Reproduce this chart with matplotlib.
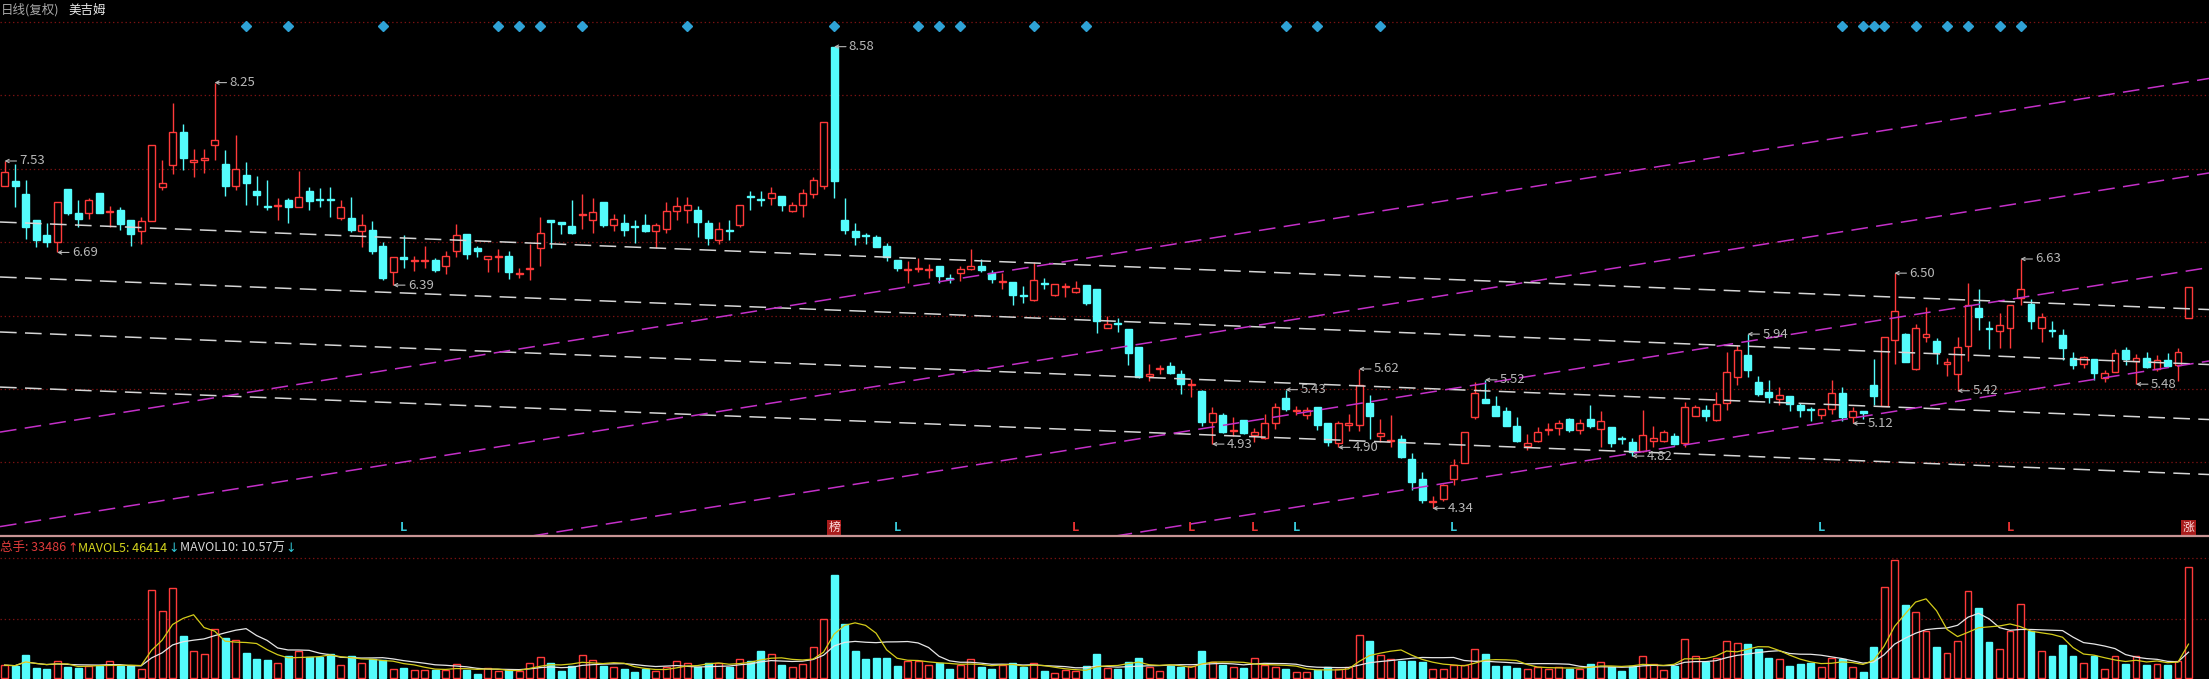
import numpy as np
import pandas as pd
import matplotlib
matplotlib.use('Agg')
import matplotlib.pyplot as plt
import matplotlib.transforms as mtrans
from matplotlib.lines import Line2D

plt.rcParams['font.family'] = ['Noto Sans CJK SC', 'DejaVu Sans']
plt.rcParams['lines.scale_dashes'] = False

# ---------------- data (daily OHLC, volume in thousand lots) ----------------
opens = [7.30, 7.35, 7.23, 6.99, 6.85, 6.79, 7.27, 7.05, 7.05, 7.24, 7.06, 7.08, 6.99, 6.89, 6.98, 7.29, 7.49, 7.80, 7.52, 7.54,
         7.68, 7.50, 7.30, 7.40, 7.25, 7.12, 7.12, 7.17, 7.11, 7.25, 7.18, 7.18, 7.01, 7.01, 6.89, 6.90, 6.75, 6.51, 6.65, 6.61,
         6.61, 6.62, 6.57, 6.70, 6.86, 6.73, 6.63, 6.65, 6.66, 6.49, 6.54, 6.73, 6.99, 6.97, 6.93, 7.03, 6.99, 7.15, 6.94, 6.96,
         6.93, 6.94, 6.89, 6.91, 7.07, 7.08, 7.08, 6.96, 6.80, 6.90, 6.94, 7.21, 7.18, 7.19, 7.21, 7.07, 7.13, 7.23, 7.30, 8.58,
         6.99, 6.89, 6.85, 6.83, 6.75, 6.62, 6.53, 6.54, 6.53, 6.57, 6.46, 6.50, 6.54, 6.57, 6.50, 6.42, 6.42, 6.30, 6.25, 6.41,
         6.30, 6.37, 6.33, 6.39, 6.35, 6.00, 6.04, 5.99, 5.82, 5.56, 5.62, 5.65, 5.57, 5.47, 5.42, 5.13, 5.20, 5.05, 5.15, 5.01,
         4.99, 5.12, 5.35, 5.23, 5.20, 5.27, 5.12, 4.94, 5.11, 5.11, 5.31, 5.00, 4.96, 4.98, 4.79, 4.61, 4.40, 4.43, 4.61, 4.76,
         5.18, 5.34, 5.28, 5.23, 5.10, 4.91, 4.96, 5.06, 5.08, 5.16, 5.06, 5.16, 5.07, 5.09, 4.99, 4.95, 4.87, 4.96, 4.96, 5.00,
         4.94, 5.19, 5.24, 5.15, 5.31, 5.55, 5.75, 5.50, 5.41, 5.34, 5.37, 5.29, 5.25, 5.20, 5.25, 5.40, 5.18, 5.23, 5.47, 5.28,
         5.89, 5.94, 5.62, 5.91, 5.88, 5.67, 5.57, 5.83, 6.18, 6.00, 5.97, 6.00, 6.27, 6.22, 6.00, 5.98, 5.93, 5.72, 5.67, 5.71,
         5.54, 5.59, 5.79, 5.69, 5.72, 5.62, 5.70, 5.66, 6.09]
highs = [7.53, 7.50, 7.36, 6.99, 6.96, 7.15, 7.27, 7.17, 7.19, 7.24, 7.12, 7.11, 6.99, 7.02, 7.68, 7.54, 8.06, 7.87, 7.64, 7.64,
         8.25, 7.63, 7.77, 7.52, 7.39, 7.36, 7.19, 7.19, 7.44, 7.29, 7.28, 7.29, 7.17, 7.20, 7.04, 6.98, 6.79, 6.65, 6.85, 6.66,
         6.75, 6.64, 6.70, 6.95, 6.86, 6.75, 6.66, 6.72, 6.70, 6.55, 6.77, 7.02, 6.99, 6.97, 7.17, 7.23, 7.19, 7.15, 7.04, 7.04,
         6.99, 7.04, 6.96, 7.15, 7.20, 7.20, 7.12, 6.99, 6.97, 6.99, 7.13, 7.25, 7.25, 7.29, 7.21, 7.15, 7.27, 7.38, 7.89, 8.58,
         7.19, 6.96, 6.87, 6.85, 6.78, 6.62, 6.61, 6.64, 6.58, 6.57, 6.49, 6.57, 6.72, 6.63, 6.53, 6.50, 6.42, 6.38, 6.60, 6.46,
         6.40, 6.41, 6.43, 6.39, 6.35, 6.11, 6.09, 5.99, 5.82, 5.67, 5.66, 5.68, 5.61, 5.53, 5.43, 5.27, 5.22, 5.18, 5.15, 5.08,
         5.21, 5.31, 5.43, 5.28, 5.27, 5.27, 5.12, 5.14, 5.21, 5.62, 5.38, 5.16, 5.20, 5.01, 4.85, 4.67, 4.45, 4.56, 4.79, 5.04,
         5.50, 5.52, 5.37, 5.27, 5.18, 5.02, 5.09, 5.12, 5.15, 5.17, 5.16, 5.29, 5.23, 5.09, 5.00, 4.99, 5.24, 5.10, 5.06, 5.03,
         5.32, 5.29, 5.29, 5.41, 5.78, 5.84, 5.94, 5.56, 5.52, 5.45, 5.37, 5.31, 5.27, 5.25, 5.52, 5.45, 5.27, 5.23, 5.71, 5.91,
         6.50, 5.95, 6.03, 6.19, 5.90, 5.72, 5.91, 6.41, 6.35, 6.06, 6.13, 6.21, 6.63, 6.26, 6.13, 6.06, 5.99, 5.78, 5.74, 5.71,
         5.61, 5.80, 5.82, 5.76, 5.78, 5.75, 5.77, 5.81, 6.37]
lows = [7.30, 7.11, 6.81, 6.74, 6.74, 6.69, 7.03, 6.92, 7.00, 7.05, 6.92, 6.90, 6.75, 6.77, 6.98, 7.26, 7.41, 7.45, 7.38, 7.42,
        7.54, 7.21, 7.26, 7.13, 7.13, 7.08, 6.99, 6.96, 7.11, 7.08, 7.11, 7.02, 6.99, 6.88, 6.74, 6.68, 6.44, 6.39, 6.55, 6.52,
        6.55, 6.51, 6.49, 6.65, 6.63, 6.65, 6.51, 6.51, 6.45, 6.46, 6.44, 6.57, 6.73, 6.86, 6.86, 6.91, 6.87, 6.92, 6.89, 6.84,
        6.78, 6.88, 6.73, 6.87, 6.99, 6.96, 6.83, 6.76, 6.77, 6.80, 6.92, 7.08, 7.12, 7.13, 7.07, 7.06, 7.02, 7.19, 7.27, 7.19,
        6.86, 6.76, 6.77, 6.74, 6.61, 6.52, 6.41, 6.51, 6.46, 6.41, 6.41, 6.43, 6.53, 6.51, 6.41, 6.35, 6.21, 6.23, 6.24, 6.35,
        6.29, 6.28, 6.32, 6.21, 5.95, 6.00, 5.96, 5.66, 5.54, 5.51, 5.57, 5.57, 5.39, 5.36, 5.10, 4.93, 5.03, 5.00, 5.02, 4.95,
        4.98, 5.07, 5.23, 5.20, 5.16, 5.06, 4.91, 4.90, 5.05, 5.05, 4.98, 4.95, 4.90, 4.80, 4.51, 4.39, 4.34, 4.41, 4.55, 4.76,
        5.16, 5.31, 5.19, 5.10, 4.95, 4.88, 4.95, 5.01, 5.01, 5.04, 5.02, 5.08, 4.90, 4.90, 4.93, 4.82, 4.86, 4.90, 4.95, 4.92,
        4.90, 5.19, 5.14, 5.14, 5.24, 5.47, 5.55, 5.37, 5.31, 5.29, 5.23, 5.18, 5.14, 5.16, 5.21, 5.14, 5.12, 5.16, 5.29, 5.28,
        5.67, 5.68, 5.61, 5.87, 5.67, 5.56, 5.42, 5.69, 5.98, 5.80, 5.81, 5.81, 6.21, 5.99, 5.87, 5.91, 5.70, 5.62, 5.63, 5.52,
        5.50, 5.59, 5.66, 5.48, 5.63, 5.60, 5.64, 5.51, 6.09]
closes = [7.43, 7.30, 6.92, 6.80, 6.79, 7.15, 7.05, 7.00, 7.17, 7.05, 7.07, 6.95, 6.86, 6.98, 7.68, 7.33, 7.80, 7.56, 7.54, 7.56,
          7.72, 7.30, 7.46, 7.33, 7.22, 7.11, 7.13, 7.11, 7.20, 7.16, 7.17, 7.17, 7.11, 6.90, 6.94, 6.70, 6.46, 6.65, 6.63, 6.62,
          6.62, 6.53, 6.66, 6.85, 6.68, 6.70, 6.66, 6.66, 6.51, 6.50, 6.55, 6.87, 6.97, 6.95, 6.87, 7.04, 7.06, 6.94, 7.00, 6.90,
          6.92, 6.89, 6.94, 7.07, 7.12, 7.13, 6.97, 6.82, 6.91, 6.89, 7.13, 7.20, 7.17, 7.24, 7.13, 7.13, 7.24, 7.36, 7.89, 7.35,
          6.90, 6.83, 6.84, 6.74, 6.65, 6.55, 6.54, 6.55, 6.54, 6.47, 6.45, 6.54, 6.57, 6.53, 6.45, 6.43, 6.30, 6.29, 6.44, 6.40,
          6.40, 6.38, 6.36, 6.23, 6.06, 6.03, 6.03, 5.77, 5.55, 5.57, 5.63, 5.58, 5.48, 5.48, 5.13, 5.22, 5.04, 5.06, 5.03, 5.04,
          5.12, 5.27, 5.25, 5.24, 5.24, 5.11, 4.95, 5.12, 5.12, 5.47, 5.19, 5.03, 4.97, 4.81, 4.58, 4.42, 4.41, 4.55, 4.74, 5.04,
          5.40, 5.31, 5.19, 5.10, 4.96, 4.94, 5.04, 5.07, 5.12, 5.06, 5.12, 5.10, 5.14, 4.94, 4.98, 4.86, 5.01, 4.99, 5.04, 4.93,
          5.27, 5.27, 5.19, 5.30, 5.59, 5.79, 5.61, 5.39, 5.36, 5.38, 5.30, 5.24, 5.24, 5.25, 5.40, 5.18, 5.23, 5.22, 5.37, 5.91,
          6.15, 5.68, 6.00, 5.94, 5.78, 5.68, 5.82, 6.21, 6.10, 5.99, 6.02, 6.21, 6.35, 6.06, 6.10, 5.97, 5.81, 5.66, 5.73, 5.58,
          5.58, 5.77, 5.71, 5.72, 5.64, 5.70, 5.65, 5.78, 6.37]
volumes = [37, 34, 69, 29, 25, 49, 32, 30, 34, 34, 50, 34, 34, 27, 264, 200, 270, 126, 81, 72,
           147, 119, 112, 75, 57, 54, 44, 65, 80, 62, 62, 71, 37, 65, 44, 57, 52, 27, 29, 24,
           22, 24, 22, 42, 22, 12, 30, 20, 22, 20, 44, 62, 44, 19, 34, 69, 52, 35, 32, 26,
           17, 26, 19, 32, 51, 45, 32, 45, 45, 32, 55, 51, 80, 71, 38, 32, 42, 93, 175, 309,
           162, 81, 55, 58, 60, 35, 51, 51, 38, 45, 26, 38, 55, 32, 26, 38, 45, 32, 45, 19,
           13, 22, 19, 35, 71, 29, 26, 47, 58, 32, 19, 35, 32, 35, 81, 47, 38, 32, 29, 58,
           38, 32, 26, 17, 17, 22, 32, 26, 32, 128, 111, 68, 55, 51, 51, 47, 26, 26, 38, 38,
           86, 71, 35, 35, 29, 26, 32, 26, 32, 26, 26, 42, 47, 32, 19, 35, 64, 42, 22, 35,
           117, 64, 47, 60, 109, 105, 102, 86, 58, 55, 35, 42, 45, 32, 60, 55, 32, 17, 92, 271,
           354, 218, 196, 141, 93, 73, 111, 260, 209, 106, 87, 141, 220, 141, 81, 64, 98, 64, 45, 64,
           26, 64, 41, 64, 38, 41, 38, 51, 333]

# labelled extreme points (bar index)
high_label_idx = [0, 20, 79, 122, 129, 141, 166, 180, 192]
low_label_idx = [5, 37, 115, 127, 136, 155, 176, 186, 203]

# signal markers
top_diamond_idx = [23, 27, 36, 47, 49, 51, 55, 65, 79, 87, 89, 91, 98, 103, 122, 125, 131,
                   175, 177, 178, 179, 182, 185, 187, 190, 192]
bottom_L_idx = [38, 85, 102, 113, 119, 123, 138, 173, 191]
bottom_L_kind = ['c', 'c', 'r', 'r', 'r', 'c', 'c', 'c', 'r']
bottom_tag_idx = [79, 208]
bottom_tag_text = ['榜', '涨']

# drawn trend lines: price at bar 0 and at bar 208
white_lines = [(6.968, 6.173), (6.463, 5.668), (5.958, 5.163), (5.452, 4.658)]
magenta_lines = [(5.047, 8.258), (4.179, 7.390), (3.311, 6.522), (2.453, 5.663)]

title_left = '日线(复权)'
title_name = '美吉姆'
vol_label_parts = [('总手: 33486', '↑'), ('MAVOL5: 46414', '↓'), ('MAVOL10: 10.57万', '↓')]

# ---------------- figure ----------------
W, H = 2209, 679
fig = plt.figure(figsize=(W / 100, H / 100), dpi=100, facecolor='black')

def fy(px):
    return 1 - px / H

ax = fig.add_axes([0, fy(536), 1, (536 - 14) / H])
axv = fig.add_axes([0, 0, 1, 143 / H])
for a in (ax, axv):
    a.set_facecolor('black')
    for s in a.spines.values():
        s.set_visible(False)
    a.set_xticks([])
    a.set_yticks([])

n = len(opens)
idx = np.arange(n)
o = np.array(opens); h = np.array(highs); l = np.array(lows); c = np.array(closes)
v = np.array(volumes, dtype=float)
up = c >= o

RED = '#ff3a3a'
CYAN = '#54fcfc'
xlim = (-0.438, 209.95)
ax.set_xlim(*xlim)
axv.set_xlim(*xlim)
ax.set_ylim(4.086, 8.880)
axv.set_ylim(-4.5, 424.5)

# grid (dotted dark red)
for k in range(7):
    ax.axhline(8.807 - 0.674 * k, color='#7a1212', lw=0.9, ls=(0, (1, 2)), zorder=0)
for gv in (175.5, 358.5):
    axv.axhline(gv, color='#7a1212', lw=0.9, ls=(0, (1, 2)), zorder=0)

# candles
cols = [RED if u else CYAN for u in up]
ax.vlines(idx, l, h, colors=cols, lw=1.0, zorder=2)
bw = 0.66
body_lo = np.minimum(o, c)
body_h = np.maximum(np.abs(c - o), 0.004)
ax.bar(idx, body_h, bottom=body_lo, width=bw,
       color=['black' if u else CYAN for u in up],
       edgecolor=cols, linewidth=1.0, zorder=3)

# trend lines
for p0, p1 in white_lines:
    ax.axline((0, p0), (208, p1), color='#d6d6d6', lw=1.1, ls=(0, (12, 6)), zorder=4)
for p0, p1 in magenta_lines:
    ax.axline((0, p0), (208, p1), color='#c430c8', lw=1.1, ls=(0, (12, 6)), zorder=4)

# extreme labels
LBL = '#b8b8b8'
for i in high_label_idx:
    ax.annotate(f'{h[i]:.2f}', xy=(i, h[i]), xytext=(i + 1.4, h[i]), color=LBL, fontsize=9.5,
                ha='left', va='center', zorder=6,
                arrowprops=dict(arrowstyle='->', color=LBL, lw=0.8, mutation_scale=6,
                                shrinkA=0, shrinkB=0))
for i in low_label_idx:
    ax.annotate(f'{l[i]:.2f}', xy=(i, l[i]), xytext=(i + 1.4, l[i]), color=LBL, fontsize=9.5,
                ha='left', va='center', zorder=6,
                arrowprops=dict(arrowstyle='->', color=LBL, lw=0.8, mutation_scale=6,
                                shrinkA=0, shrinkB=0))

# markers
btr = mtrans.blended_transform_factory(ax.transData, ax.transAxes)
ax.plot(top_diamond_idx, [(536 - 25.5) / 522] * len(top_diamond_idx), 'D', color='#2fa2d6',
        markersize=5.5, transform=btr, zorder=5, clip_on=False)
for i, kind in zip(bottom_L_idx, bottom_L_kind):
    ax.text(i, (536 - 527.5) / 522, 'L', transform=btr, ha='center', va='center',
            fontsize=9, fontweight='bold', color=('#38c8d8' if kind == 'c' else '#e83232'), zorder=6)
for i, t in zip(bottom_tag_idx, bottom_tag_text):
    ax.text(i, (536 - 527.5) / 522, t, transform=btr, ha='center', va='center',
            fontsize=8.5, color='#ffe0e0', zorder=6,
            bbox=dict(boxstyle='square,pad=0.12', fc='#a81c1c', ec='none'))

# volume
axv.bar(idx, v, width=bw, color=['black' if u else CYAN for u in up],
        edgecolor=cols, linewidth=1.0, zorder=2)
ma5 = pd.Series(v).rolling(5, min_periods=1).mean()
ma10 = pd.Series(v).rolling(10, min_periods=1).mean()
axv.plot(idx, ma10, color='#e6e6e6', lw=0.9, zorder=3)
axv.plot(idx, ma5, color='#d4cc1a', lw=0.9, zorder=3)

# separator line
fig.add_artist(Line2D([0, 1], [fy(536), fy(536)], transform=fig.transFigure,
                      color='#c89494', lw=1.6))

# titles
fig.text(0.5 / W, fy(10), title_left, color='#a8a8a8', fontsize=9, ha='left', va='center')
fig.text(68 / W, fy(10), title_name, color='#e8e8e8', fontsize=9, ha='left', va='center')

# volume legend
xs = [0, 78, 180]
arrow_x = [67, 168, 285]
tcols = ['#e23c3c', '#d4d41e', '#d8d8d8']
acols = ['#e23c3c', '#30c4d4', '#30c4d4']
for (txt, arr), x0, xa, tc, ac in zip(vol_label_parts, xs, arrow_x, tcols, acols):
    fig.text(x0 / W, fy(548), txt, color=tc, fontsize=9, ha='left', va='center')
    fig.text(xa / W, fy(548), arr, color=ac, fontsize=9, ha='left', va='center',
             family=['DejaVu Sans'])

fig.savefig('out.png', dpi=100, facecolor='black')
